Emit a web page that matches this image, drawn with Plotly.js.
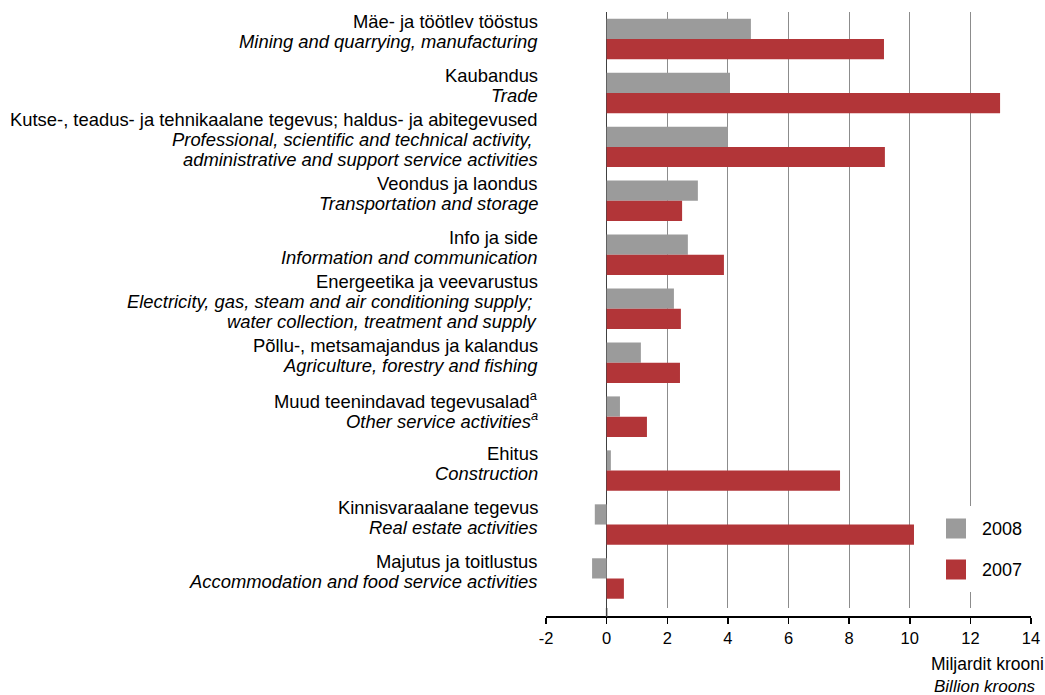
<!DOCTYPE html>
<html>
<head>
<meta charset="utf-8">
<script src="https://cdn.plot.ly/plotly-3.0.1.min.js"></script>
<style>
  html, body { margin: 0; padding: 0; background: #fff; }
  #chart { width: 1045px; height: 695px; }
</style>
</head>
<body>
<div id="chart"></div>
<script>
// Category labels (Estonian / English)
const categoriesEt = [
  "Mäe- ja töötlev tööstus",
  "Kaubandus",
  "Kutse-, teadus- ja tehnikaalane tegevus; haldus- ja abitegevused",
  "Veondus ja laondus",
  "Info ja side",
  "Energeetika ja veevarustus",
  "Põllu-, metsamajandus ja kalandus",
  "Muud teenindavad tegevusalad<sup>a</sup>",
  "Ehitus",
  "Kinnisvaraalane tegevus",
  "Majutus ja toitlustus"
];
const categoriesEn = [
  "Mining and quarrying, manufacturing",
  "Trade",
  "Professional, scientific and technical activity, |administrative and support service activities",
  "Transportation and storage",
  "Information and communication",
  "Electricity, gas, steam and air conditioning supply; |water collection, treatment and supply",
  "Agriculture, forestry and fishing",
  "Other service activities<sup>a</sup>",
  "Construction",
  "Real estate activities",
  "Accommodation and food service activities"
];
// Values, billion kroons
const values2008 = [4.76, 4.07, 4.00, 3.01, 2.68, 2.22, 1.13, 0.44, 0.14, -0.39, -0.48];
const values2007 = [9.15, 12.98, 9.18, 2.49, 3.87, 2.45, 2.42, 1.33, 7.70, 10.14, 0.57];
const seriesNames = ["2008", "2007"];
const seriesColors = ["#9b9b9b", "#b23538"];
const tickVals = [-2, 0, 2, 4, 6, 8, 10, 12, 14];
const axisTitleEt = "Miljardit krooni";
const axisTitleEn = "Billion kroons";

const FONT = "Liberation Sans, Arial, sans-serif";
const PW = 485;          // plot width in px (for paper-unit conversions)
const PH = 605;          // paper height in px

const traces = [values2008, values2007].map((vals, i) => ({
  type: "bar",
  orientation: "h",
  name: seriesNames[i],
  x: vals,
  y: categoriesEt,
  marker: { color: seriesColors[i], line: { width: 0 } },
  hoverinfo: "x+name",
  showlegend: false
}));

// category labels: one annotation per text line, right-aligned left of the plot
const annotations = [];
const LINE = 20;
categoriesEt.forEach((c, i) => {
  const lines = [c].concat(categoriesEn[i].split("|").map(s => "<i>" + s + "</i>"));
  const n = lines.length;
  lines.forEach((t, k) => {
    annotations.push({
      xref: "paper", yref: "y",
      x: -6 / PW, y: c,
      xanchor: "right", yanchor: "middle",
      yshift: 7 + ((n - 1) / 2 - k) * LINE,
      showarrow: false,
      text: t,
      font: { family: FONT, size: 18.4, color: "#000" }
    });
  });
});

// axis title (two lines)
annotations.push({
  xref: "paper", yref: "paper", x: 1.0 + 15 / PW, y: -47 / PH,
  xanchor: "right", yanchor: "middle", showarrow: false,
  text: axisTitleEt, font: { family: FONT, size: 17.5, color: "#000" }
});
annotations.push({
  xref: "paper", yref: "paper", x: 1.0 + 7 / PW, y: -69 / PH,
  xanchor: "right", yanchor: "middle", showarrow: false,
  text: "<i>" + axisTitleEn + "</i>", font: { family: FONT, size: 17, color: "#000" }
});

// legend (custom: large squares on a white box that interrupts the grid)
const bottomPx = 617; // paper bottom in page px
const py = v => (bottomPx - v) / PH;
const px = v => (v - 546) / PW;
const legY = [py(528.5), py(569.5)];
const shapes = [{
  type: "rect", xref: "paper", yref: "paper", layer: "above",
  x0: px(932), x1: px(1026), y0: py(592), y1: py(506),
  fillcolor: "#ffffff", line: { width: 0 }
}, {
  // zero line continues down to the axis line
  type: "line", xref: "x", yref: "paper", layer: "above",
  x0: 0, x1: 0, y0: 0, y1: 9 / PH,
  line: { color: "#404040", width: 1.5 }
}];
seriesNames.forEach((n, i) => {
  shapes.push({
    type: "rect", xref: "paper", yref: "paper", layer: "above",
    x0: px(946), x1: px(966), y0: legY[i] - 10 / PH, y1: legY[i] + 10 / PH,
    fillcolor: seriesColors[i], line: { width: 0 }
  });
  annotations.push({
    xref: "paper", yref: "paper", x: px(980), y: legY[i],
    xanchor: "left", yanchor: "middle", showarrow: false,
    text: n, font: { family: FONT, size: 18, color: "#000" }
  });
});

const layout = {
  width: 1045, height: 695,
  margin: { l: 546, r: 14, t: 12, b: 78, pad: 0 },
  paper_bgcolor: "#fff", plot_bgcolor: "#fff",
  font: { family: FONT, size: 16, color: "#000" },
  barmode: "group",
  bargap: 0.25,
  bargroupgap: 0,
  xaxis: {
    range: [-2, 14],
    anchor: "free", position: 0,
    tickvals: tickVals,
    ticktext: tickVals.map(String),
    showgrid: true, gridcolor: "#8c8c8c", gridwidth: 1,
    zeroline: true, zerolinecolor: "#404040", zerolinewidth: 1.5,
    showline: true, linecolor: "#000", linewidth: 2,
    ticks: "outside", ticklen: 6, tickwidth: 1.5, tickcolor: "#000",
    tickfont: { family: FONT, size: 16.5, color: "#000" },
    fixedrange: true
  },
  yaxis: {
    type: "category",
    domain: [9 / PH, 1],
    autorange: "reversed",
    showticklabels: false,
    showgrid: false, zeroline: false, showline: false, ticks: "",
    fixedrange: true
  },
  showlegend: false,
  annotations: annotations,
  shapes: shapes
};

Plotly.newPlot("chart", traces, layout, { displayModeBar: false, staticPlot: true });
</script>
</body>
</html>
